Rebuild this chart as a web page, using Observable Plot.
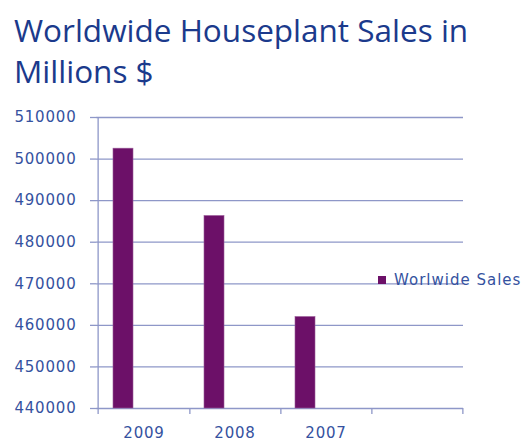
<!DOCTYPE html>
<html>
<head>
<meta charset="utf-8">
<script src="https://cdn.jsdelivr.net/npm/d3@7"></script>
<script src="https://cdn.jsdelivr.net/npm/@observablehq/plot@0.6"></script>
<style>
  html, body { margin: 0; padding: 0; background: #fff; }
  #wrap { position: relative; width: 521px; height: 442px; overflow: hidden; }
  #title { position: absolute; left: 14px; top: 9px; font-family: "Open Sans", sans-serif; font-size: 31.5px; line-height: 41px; color: #1b3a8c; white-space: nowrap; }
  #chart { position: absolute; left: 0; top: 100px; }
  #legend { position: absolute; left: 378px; top: 271px; font-family: "DejaVu Sans", sans-serif; font-size: 15px; letter-spacing: 1px; color: #3552a0; display: flex; align-items: center; white-space: nowrap; }
  #legend .sw { width: 8px; height: 8px; background: #6c1068; margin-right: 8px; }
</style>
</head>
<body>
<div id="wrap">
  <div id="title">Worldwide Houseplant Sales in<br>Millions $</div>
  <div id="chart"></div>
  <div id="legend"><span class="sw"></span><span id="legendText"></span></div>
</div>
<script>
const categories = ["2009", "2008", "2007", ""];
const years = ["2009", "2008", "2007"];
const sales = [502500, 486300, 462000];
const yTicks = [440000, 450000, 460000, 470000, 480000, 490000, 500000, 510000];
const seriesName = "Worlwide Sales";

const data = years.map((y, i) => ({year: y, value: sales[i]}));

const W = 521, H = 342, mL = 96, mR = 58, mT = 17, mB = 34;
const bw = (W - mL - mR) / categories.length;
const grid = "#8e97c8";
const barFill = "#6c1068";

const chart = Plot.plot({
  width: W,
  height: H,
  marginLeft: mL,
  marginRight: mR,
  marginTop: mT,
  marginBottom: mB,
  style: {fontFamily: "DejaVu Sans, sans-serif", fontSize: "15px", color: "#3552a0", background: "white", letterSpacing: "0.8px"},
  x: {domain: categories, padding: 0, axis: null},
  y: {domain: [yTicks[0], yTicks[yTicks.length - 1]], axis: null},
  marks: [
    Plot.ruleY(yTicks, {stroke: grid, strokeWidth: 1.3}),
    Plot.ruleX([categories[0]], {dx: -bw / 2, stroke: grid, strokeWidth: 1.3, insetBottom: -6}),
    Plot.ruleX(categories, {y1: yTicks[0], y2: yTicks[0], dx: bw / 2, stroke: grid, strokeWidth: 1.3, insetBottom: -6}),
    Plot.axisY({ticks: yTicks, tickSize: 6, tickPadding: 14, tickFormat: d => String(d), stroke: grid, strokeWidth: 1.3, fill: "#3552a0", label: null}),
    Plot.axisX({tickSize: 0, tickPadding: 19, fill: "#3552a0", label: null}),
    Plot.barY(data, {x: "year", y1: yTicks[0], y2: "value", fill: barFill, stroke: "#9a5a98", strokeWidth: 0.6, insetLeft: 15, insetRight: 56})
  ]
});
document.getElementById("chart").appendChild(chart);
document.getElementById("legendText").textContent = seriesName;
</script>
</body>
</html>
